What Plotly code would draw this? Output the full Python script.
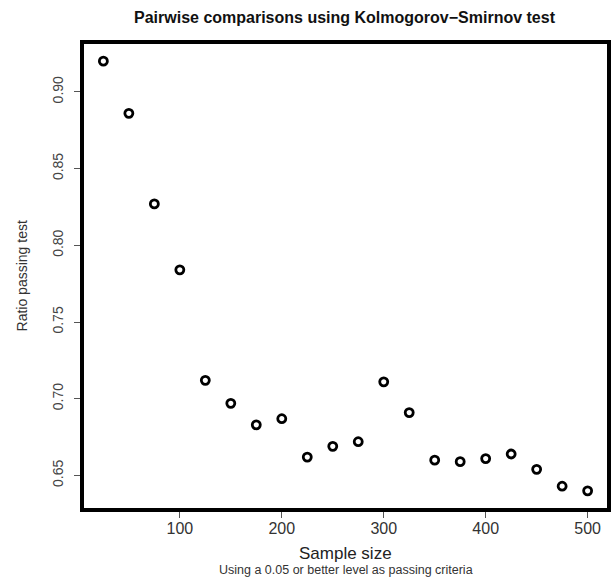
import plotly.graph_objects as go

sample_size = [25, 50, 75, 100, 125, 150, 175, 200, 225, 250,
               275, 300, 325, 350, 375, 400, 425, 450, 475, 500]
ratio_passing = [0.920, 0.886, 0.827, 0.784, 0.712, 0.697, 0.683, 0.687, 0.662, 0.669,
                 0.672, 0.711, 0.691, 0.660, 0.659, 0.661, 0.664, 0.654, 0.643, 0.640]
x_ticks = [100, 200, 300, 400, 500]
y_ticks = [0.65, 0.70, 0.75, 0.80, 0.85, 0.90]
y_tick_labels = ["0.65", "0.70", "0.75", "0.80", "0.85", "0.90"]

def r_range(v):
    lo, hi = min(v), max(v)
    pad = 0.04 * (hi - lo)
    return [lo - pad, hi + pad]

font = "Liberation Sans, Arial, Helvetica, sans-serif"
W, H = 616, 581
L, R, T, B = 84, 5, 44, 73
pw, ph = W - L - R, H - T - B

fig = go.Figure()
fig.add_trace(go.Scatter(
    x=sample_size, y=ratio_passing, mode="markers",
    marker=dict(symbol="circle-open", size=8, color="black",
                line=dict(width=2.8, color="black")),
    showlegend=False, hoverinfo="x+y",
))

fig.update_layout(
    width=W, height=H,
    margin=dict(l=L, r=R, t=T, b=B),
    paper_bgcolor="white", plot_bgcolor="white",
    font=dict(family=font, color="#333333"),
    xaxis=dict(range=r_range(sample_size), tickvals=x_ticks,
               ticks="outside", ticklen=6, tickwidth=1, tickcolor="#555555",
               ticklabelstandoff=-3,
               showgrid=False, zeroline=False,
               showline=True, linewidth=4, linecolor="black", mirror=True,
               tickfont=dict(size=16, color="#333333", family=font)),
    yaxis=dict(range=r_range(ratio_passing), tickvals=y_ticks, ticktext=y_tick_labels,
               ticks="outside", ticklen=6, tickwidth=1, tickcolor="#555555",
               tickangle=-90, ticklabelstandoff=5,
               showgrid=False, zeroline=False,
               showline=True, linewidth=4, linecolor="black", mirror=True,
               tickfont=dict(size=14, color="#444444", family=font)),
    annotations=[
        dict(text="<b>Pairwise comparisons using Kolmogorov\u2212Smirnov test</b>",
             x=(347 - L) / pw, y=1 + (T - 18) / ph, xref="paper", yref="paper",
             xanchor="center", yanchor="middle", showarrow=False,
             font=dict(size=16, color="#111111", family=font)),
        dict(text="Sample size", x=0.5, y=-(553 - (H - B)) / ph,
             xref="paper", yref="paper", xanchor="center", yanchor="middle",
             showarrow=False,
             font=dict(size=17, color="#222222", family=font)),
        dict(text="Using a 0.05 or better level as passing criteria", x=0.5,
             y=-(570 - (H - B)) / ph, xref="paper", yref="paper",
             xanchor="center", yanchor="middle", showarrow=False,
             font=dict(size=12.5, color="#333333", family=font)),
        dict(text="Ratio passing test", x=-(L - 22) / pw, y=0.5,
             xref="paper", yref="paper", xanchor="center", yanchor="middle",
             textangle=-90, showarrow=False,
             font=dict(size=14, color="#333333", family=font)),
    ],
)

fig.write_html("out.html", config={"displayModeBar": False},
               post_script="document.body.style.margin='0';")
